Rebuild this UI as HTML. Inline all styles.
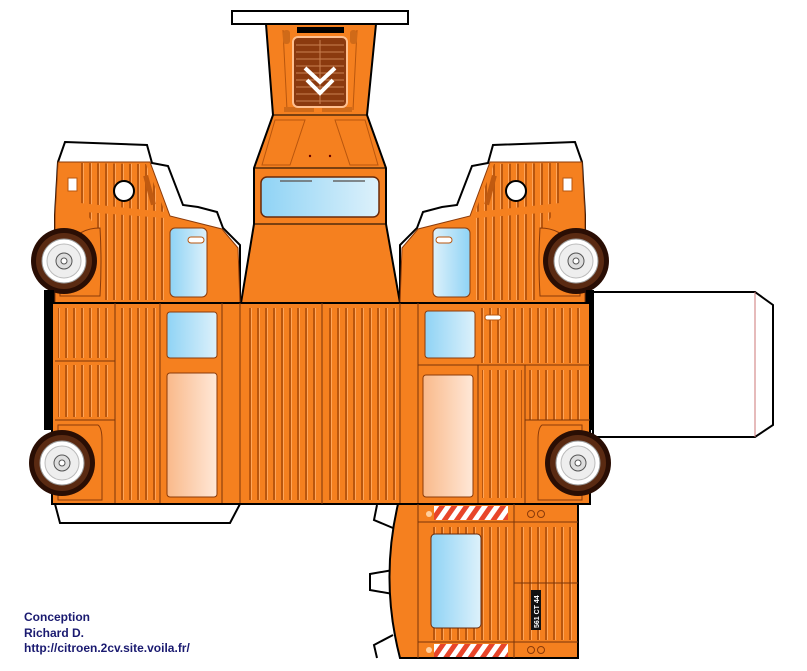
<!DOCTYPE html>
<html><head><meta charset="utf-8"><style>
html,body{margin:0;padding:0;background:#fff;}
svg{display:block;}
</style></head><body>
<svg width="807" height="671" viewBox="0 0 807 671" xmlns="http://www.w3.org/2000/svg">
<defs>
<pattern id="st" width="8" height="10" patternUnits="userSpaceOnUse">
<rect width="8" height="10" fill="#F5801F"/>
<rect x="1" width="2" height="10" fill="#B9560E"/>
<rect x="3" width="1" height="10" fill="#FFA55A"/>
</pattern>
<linearGradient id="bl" x1="0" y1="0" x2="1" y2="0"><stop offset="0" stop-color="#8FD3F5"/><stop offset="1" stop-color="#DDF1FB"/></linearGradient>
<linearGradient id="pe" x1="0" y1="0" x2="1" y2="0"><stop offset="0" stop-color="#F9B98A"/><stop offset="1" stop-color="#FFE8D8"/></linearGradient>
<pattern id="hz" width="10" height="20" patternUnits="userSpaceOnUse" patternTransform="rotate(35)">
<rect width="10" height="20" fill="#fff"/><rect width="5" height="20" fill="#E8452A"/></pattern>
<g id="wheel">
<circle r="33" fill="#2A0E04"/>
<circle r="28" fill="#5A2A12"/>
<circle r="22" fill="#fff" stroke="#999"/>
<circle r="17" fill="#eee" stroke="#bbb"/>
<circle r="8" fill="#ddd" stroke="#555"/>
<circle r="3" fill="#fff" stroke="#555"/>
</g>
<g id="cab">
<polygon points="65,142 147,145 152,163 168,166 183,205 198,207 217,212 223,228 240,245 240,303 55,303 55,215 58,162" fill="#fff" stroke="#000" stroke-width="2"/>
<polygon points="58,162 150,162 170,216 222,229 238,248 240,303 55,303 55,215" fill="#F5801F" stroke="#8a3a0a" stroke-width="1"/>
<polygon points="80,163 146,164 165,212 80,203" fill="url(#st)"/>
<polygon points="85,212 165,218 165,300 100,300 100,232" fill="url(#st)"/>
<rect x="147" y="175" width="5" height="30" fill="#C05A10" transform="rotate(-15 150 190)"/>
<circle cx="124" cy="191" r="10" fill="#fff" stroke="#000" stroke-width="2"/>
<rect x="68" y="178" width="9" height="13" fill="#fff" stroke="#B9560E"/>
<rect x="170" y="228" width="37" height="69" rx="5" fill="url(#bl)" stroke="#8a3a0a"/>
<rect x="188" y="237" width="16" height="6" rx="3" fill="#fff" stroke="#B9560E"/>
<path d="M60,296 Q58,228 100,228 Q102,262 100,296 Z" fill="#F5801F" stroke="#8a3a0a"/>
<use href="#wheel" x="64" y="261"/>
</g>
</defs>
<!-- right flap -->
<polygon points="593,292 755,292 773,305 773,425 755,437 593,437" fill="#fff" stroke="#000" stroke-width="2"/>
<line x1="755" y1="292" x2="755" y2="437" stroke="#C77" stroke-width="1"/>
<!-- top center -->
<rect x="232" y="11" width="176" height="13" fill="#fff" stroke="#000" stroke-width="2"/>
<polygon points="266,24 376,24 367,115 386,168 386,224 400,303 241,303 254,224 254,168 273,115" fill="#F5801F" stroke="#000" stroke-width="2"/>
<line x1="273" y1="115" x2="367" y2="115" stroke="#000"/>
<line x1="254" y1="168" x2="386" y2="168" stroke="#000"/>
<line x1="254" y1="224" x2="386" y2="224" stroke="#000"/>
<g fill="none" stroke="#B9560E"><polygon points="275,120 305,120 290,165 262,165"/><polygon points="335,120 365,120 378,165 350,165"/><line x1="283" y1="30" x2="287" y2="110"/><line x1="357" y1="30" x2="353" y2="110"/></g>
<rect x="284" y="107" width="30" height="5" fill="#D06A18"/><rect x="322" y="107" width="30" height="5" fill="#D06A18"/>
<rect x="283" y="30" width="7" height="14" rx="3" fill="#D06A18"/><rect x="350" y="30" width="7" height="14" rx="3" fill="#D06A18"/>
<rect x="297" y="27" width="47" height="6" fill="#000"/>
<rect x="293" y="37" width="54" height="70" rx="5" fill="#8B3A0F" stroke="#FFC090" stroke-width="2"/>
<g stroke="#C88050" stroke-width="1"><line x1="296" y1="45" x2="344" y2="45"/><line x1="296" y1="52" x2="344" y2="52"/><line x1="296" y1="59" x2="344" y2="59"/><line x1="296" y1="66" x2="344" y2="66"/><line x1="296" y1="73" x2="344" y2="73"/><line x1="296" y1="80" x2="344" y2="80"/><line x1="296" y1="87" x2="344" y2="87"/><line x1="296" y1="94" x2="344" y2="94"/><line x1="296" y1="101" x2="344" y2="101"/><line x1="320" y1="40" x2="320" y2="104"/></g>
<polyline points="305,68 320,82 335,68" fill="none" stroke="#fff" stroke-width="4"/>
<polyline points="307,80 320,93 333,80" fill="none" stroke="#fff" stroke-width="4"/>
<circle cx="310" cy="156" r="1.2" fill="#600"/><circle cx="330" cy="156" r="1.2" fill="#600"/>
<rect x="261" y="177" width="118" height="40" rx="6" fill="url(#bl)" stroke="#6a2a0a" stroke-width="1.5"/>
<line x1="280" y1="181" x2="312" y2="181" stroke="#666" stroke-width="1.5"/><line x1="333" y1="181" x2="365" y2="181" stroke="#666" stroke-width="1.5"/>
<!-- cabs -->
<use href="#cab"/>
<use href="#cab" transform="translate(640,0) scale(-1,1)"/>
<!-- main band -->
<rect x="44" y="290" width="10" height="140" fill="#000"/>
<rect x="586" y="290" width="8" height="140" fill="#000"/>
<rect x="52" y="303" width="538" height="201" fill="#F5801F" stroke="#000" stroke-width="2"/>
<rect x="58" y="308" width="55" height="50" fill="url(#st)"/>
<rect x="58" y="365" width="55" height="52" fill="url(#st)"/>
<rect x="120" y="308" width="38" height="192" fill="url(#st)"/>
<rect x="244" y="308" width="75" height="192" fill="url(#st)"/>
<rect x="326" y="308" width="72" height="192" fill="url(#st)"/>
<rect x="480" y="308" width="102" height="55" fill="url(#st)"/>
<rect x="482" y="370" width="40" height="128" fill="url(#st)"/>
<rect x="528" y="370" width="54" height="50" fill="url(#st)"/>
<g stroke="#7a3508" stroke-width="1">
<line x1="115" y1="303" x2="115" y2="504"/><line x1="160" y1="303" x2="160" y2="504"/><line x1="222" y1="303" x2="222" y2="504"/><line x1="240" y1="303" x2="240" y2="504"/><line x1="322" y1="303" x2="322" y2="504"/><line x1="400" y1="303" x2="400" y2="504"/><line x1="418" y1="303" x2="418" y2="504"/><line x1="478" y1="365" x2="478" y2="504"/><line x1="525" y1="365" x2="525" y2="504"/>
<line x1="55" y1="361" x2="115" y2="361"/><line x1="55" y1="420" x2="115" y2="420"/><line x1="418" y1="365" x2="590" y2="365"/><line x1="525" y1="420" x2="590" y2="420"/>
</g>
<rect x="167" y="312" width="50" height="46" rx="3" fill="url(#bl)" stroke="#8a3a0a"/>
<rect x="167" y="373" width="50" height="124" rx="3" fill="url(#pe)" stroke="#8a3a0a"/>
<rect x="425" y="311" width="50" height="47" rx="3" fill="url(#bl)" stroke="#8a3a0a"/>
<rect x="423" y="375" width="50" height="122" rx="3" fill="url(#pe)" stroke="#8a3a0a"/>
<rect x="485" y="315" width="16" height="5" rx="2.5" fill="#fff" stroke="#B9560E"/>
<!-- rear wheels -->
<path d="M58,425 L98,425 Q102,428 102,440 L102,500 L58,500 Z" fill="#F5801F" stroke="#8a3a0a"/>
<path d="M582,425 L542,425 Q538,428 538,440 L538,500 L582,500 Z" fill="#F5801F" stroke="#8a3a0a"/>
<use href="#wheel" x="62" y="463"/>
<use href="#wheel" x="578" y="463"/>
<!-- bottom tab -->
<polygon points="55,504 240,504 230,523 60,523" fill="#fff" stroke="#000" stroke-width="2"/>
<!-- rear piece -->
<polyline points="377,505 374,520 393,528" fill="none" stroke="#000" stroke-width="2"/>
<polyline points="393,570 370,574 370,590 393,594" fill="none" stroke="#000" stroke-width="2"/>
<polyline points="393,635 374,645 377,658" fill="none" stroke="#000" stroke-width="2"/>
<path d="M398,504 L578,504 L578,658 L400,658 Q380,581 398,504 Z" fill="#F5801F" stroke="#000" stroke-width="2"/>
<rect x="428" y="527" width="85" height="113" fill="url(#st)"/>
<rect x="517" y="527" width="58" height="113" fill="url(#st)"/>
<g stroke="#7a3508"><line x1="418" y1="504" x2="418" y2="658"/><line x1="418" y1="522" x2="578" y2="522"/><line x1="418" y1="642" x2="578" y2="642"/><line x1="514" y1="504" x2="514" y2="658"/><line x1="514" y1="583" x2="578" y2="583"/></g>
<rect x="434" y="506" width="74" height="14" fill="url(#hz)"/>
<rect x="434" y="644" width="74" height="13" fill="url(#hz)"/>
<circle cx="429" cy="514" r="3" fill="#FFD0A0"/><circle cx="429" cy="650" r="3" fill="#FFD0A0"/>
<g fill="none" stroke="#8a3a0a"><circle cx="531" cy="514" r="3.5"/><circle cx="541" cy="514" r="3.5"/><circle cx="531" cy="650" r="3.5"/><circle cx="541" cy="650" r="3.5"/></g>
<rect x="431" y="534" width="50" height="94" rx="4" fill="url(#bl)" stroke="#6a2a0a"/>
<rect x="531" y="590" width="10" height="40" fill="#111"/>
<text x="0" y="0" transform="translate(539,628) rotate(-90)" font-family="Liberation Sans, sans-serif" font-size="7" font-weight="bold" fill="#fff">561 CT 44</text>
<!-- credits -->
<g font-family="Liberation Sans, sans-serif" font-weight="bold" font-size="12" fill="#1A1A70">
<text x="24" y="621">Conception</text>
<text x="24" y="637">Richard D.</text>
<text x="24" y="652">http://citroen.2cv.site.voila.fr/</text>
</g>
</svg>
</body></html>
